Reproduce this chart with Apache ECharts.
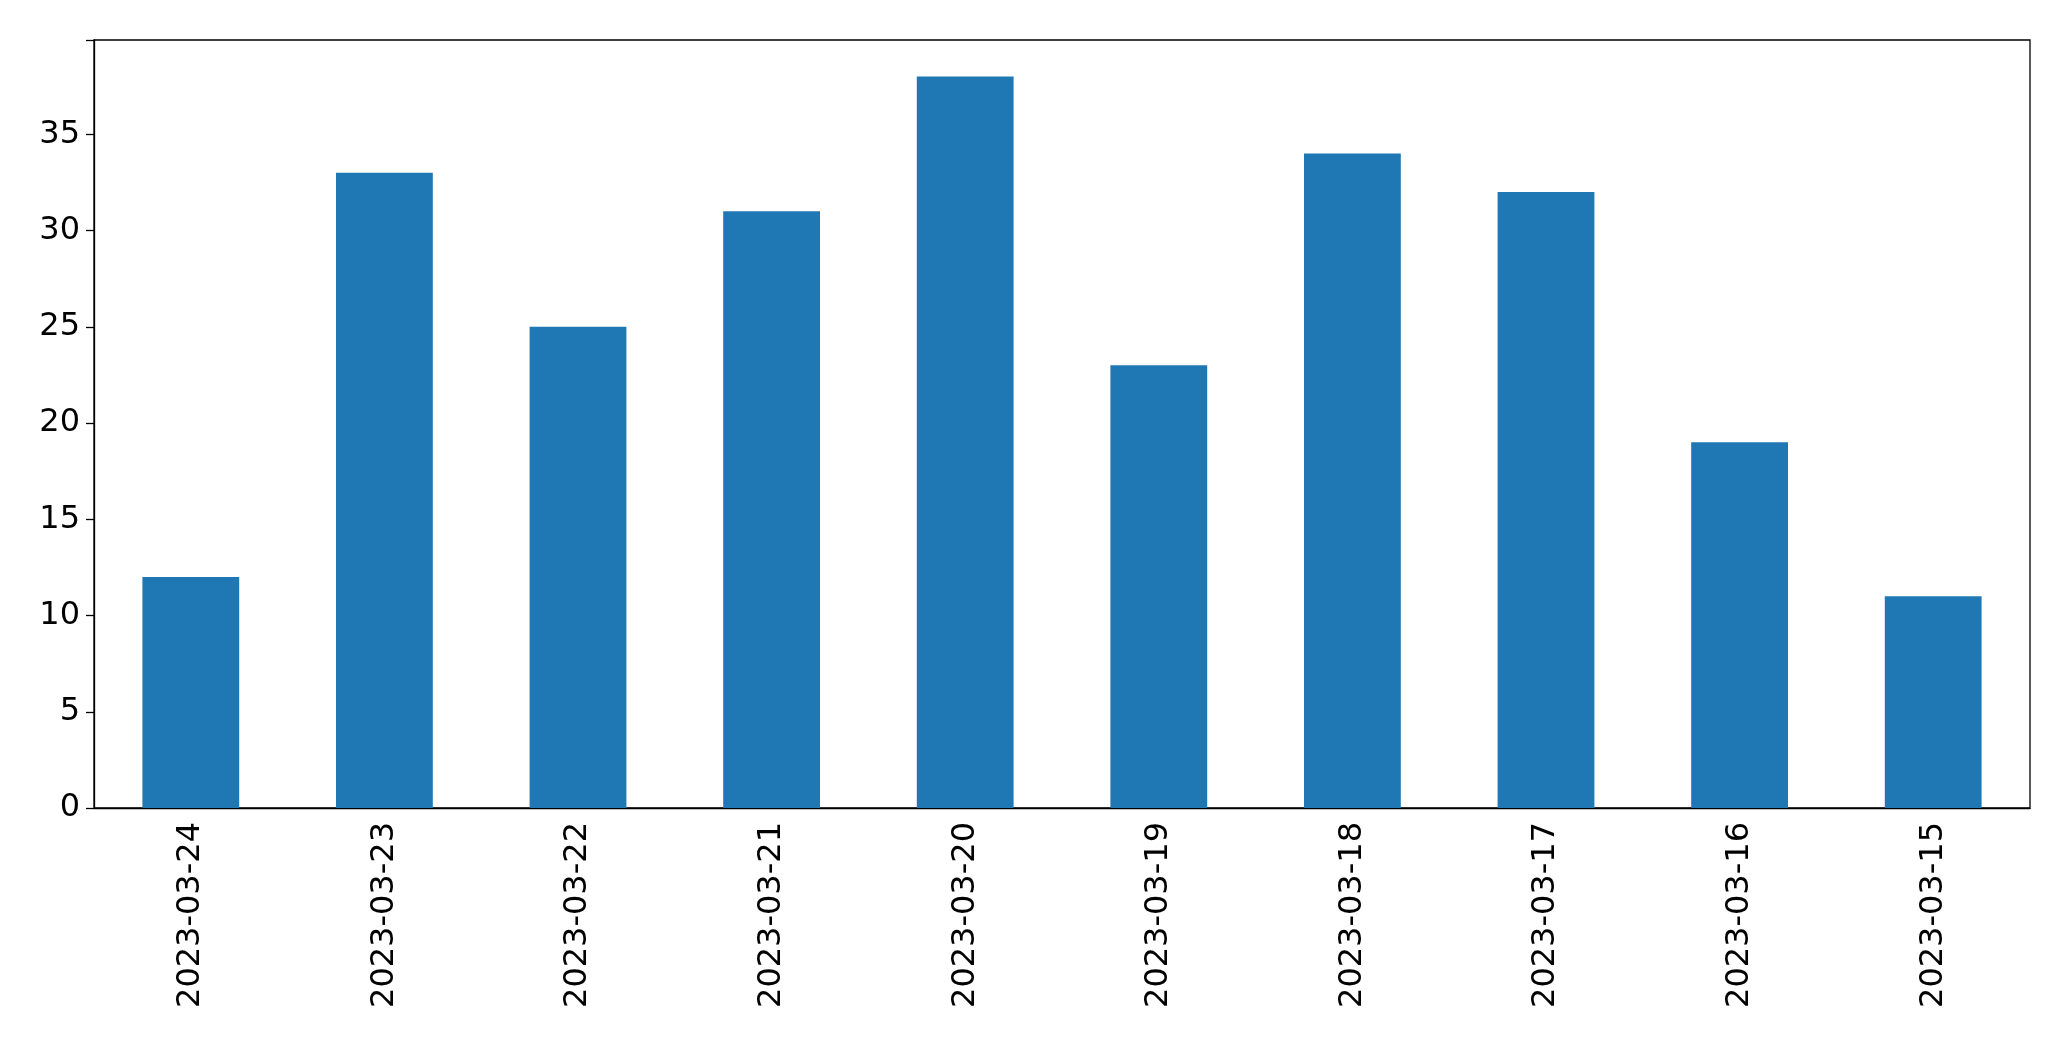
<!DOCTYPE html>
<html><head><meta charset="utf-8">
<script src="https://cdn.jsdelivr.net/npm/echarts@6/dist/echarts.min.js"></script>
<style>html,body{margin:0;padding:0;background:#fff}#c{width:2071px;height:1061px}</style>
</head><body><div id="c"></div>
<script>
const categories = ['2023-03-24','2023-03-23','2023-03-22','2023-03-21','2023-03-20','2023-03-19','2023-03-18','2023-03-17','2023-03-16','2023-03-15'];
const values = [12,33,25,31,38,23,34,32,19,11];
const chart = echarts.init(document.getElementById('c'));
const font = {fontFamily:'DejaVu Sans', fontSize:32, color:'#000'};
chart.setOption({
  animation:false,
  grid:{left:94,right:41,top:40,bottom:253,show:true,borderColor:'#000',borderWidth:1.3},
  xAxis:{type:'category',data:categories,
    axisLine:{lineStyle:{color:'#000',width:1.3}},
    axisTick:{alignWithLabel:true,length:8,lineStyle:{color:'#000',width:1.3}},
    axisLabel:Object.assign({rotate:90,margin:14,interval:0},font)},
  yAxis:{type:'value',min:0,max:39.9,interval:5,splitLine:{show:false},
    axisLine:{show:true,lineStyle:{color:'#000',width:1.3}},
    axisTick:{show:true,length:8,lineStyle:{color:'#000',width:1.3}},
    axisLabel:Object.assign({margin:14,formatter:v=>v%5===0?String(v):''},font)},
  series:[{type:'bar',data:values,barCategoryGap:'50%',itemStyle:{color:'#1f77b4'}}]
});
</script></body></html>
